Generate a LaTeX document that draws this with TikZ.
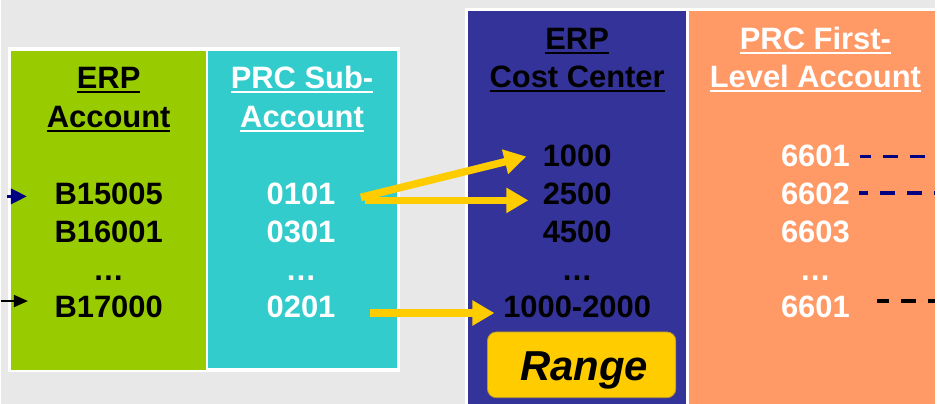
\documentclass[tikz,border=0pt]{standalone}
\usepackage{fontspec}
\setmainfont{Liberation Sans}
\usetikzlibrary{arrows.meta}
\definecolor{bg}{HTML}{E8E8E8}
\definecolor{erpgreen}{HTML}{99CC00}
\definecolor{prccyan}{HTML}{33CCCC}
\definecolor{erppurple}{HTML}{333399}
\definecolor{prcorange}{HTML}{FF9966}
\definecolor{arrowyellow}{HTML}{FFCC00}
\definecolor{rangeborder}{HTML}{B8962E}
\definecolor{navy}{HTML}{000080}
\newcommand\hul[1]{\sbox0{#1}\rlap{\rule[-4pt]{\wd0}{2pt}}\usebox0}
\tikzset{
  txt/.style={font=\fontsize{31}{37}\selectfont\bfseries, inner sep=0pt, anchor=base},
  yarrow/.style={draw=arrowyellow, line width=7.5pt, -{Triangle[length=22pt,width=24pt]}},
  dashline/.style={line width=4pt, dash pattern=on 15pt off 12pt},
}
\begin{document}
\begin{tikzpicture}[x=1pt,y=-1pt]
% background
\fill[bg] (0,0) rectangle (937,405);
% left frame
\fill[white] (7,47) rectangle (400,373);
\fill[erpgreen] (10,51) rectangle (206,371);
\fill[prccyan] (208,51) rectangle (397,369);
% right frame
\fill[white] (465,8) rectangle (937,405);
\fill[erppurple] (468,11) rectangle (687,405);
\fill[prcorange] (690,11) rectangle (937,405);

% ERP Account column
\node[txt, text=black] (ga1) at (108,89) {\hul{ERP}};
\node[txt, text=black] (ga2) at (108,128) {\hul{Account}};
\node[txt, text=black] (g1) at (108,205) {B15005};
\node[txt, text=black] (g2) at (108,243) {B16001};
\node[txt, text=black] (g3) at (108,281) {…};
\node[txt, text=black] (g4) at (108,319) {B17000};

% PRC Sub-Account column
\node[txt, text=white] (ca1) at (302,89) {\hul{PRC Sub-}};
\node[txt, text=white] (ca2) at (302,128) {\hul{Account}};
\node[txt, text=white] (c1) at (301,205) {0101};
\node[txt, text=white] (c2) at (301,243) {0301};
\node[txt, text=white] (c3) at (301,281) {…};
\node[txt, text=white] (c4) at (301,319) {0201};

% ERP Cost Center column
\node[txt, text=black] (pa1) at (578,50) {\hul{ERP}};
\node[txt, text=black] (pa2) at (578,88) {\hul{Cost Center}};
\node[txt, text=black] (p1) at (578,167) {1000};
\node[txt, text=black] (p2) at (578,205) {2500};
\node[txt, text=black] (p3) at (578,243) {4500};
\node[txt, text=black] (p4) at (578,281) {…};
\node[txt, text=black] (p5) at (578,319) {1000-2000};

% PRC First-Level Account column
\node[txt, text=white] (oa1) at (817,50) {\hul{PRC First-}};
\node[txt, text=white] (oa2) at (817,88) {\hul{Level Account}};
\node[txt, text=white] (o1) at (817,167) {6601};
\node[txt, text=white] (o2) at (817,205) {6602};
\node[txt, text=white] (o3) at (817,243) {6603};
\node[txt, text=white] (o4) at (817,281) {…};
\node[txt, text=white] (o5) at (817,319) {6601};

% Range box
\node[draw=rangeborder, line width=0.8pt, fill=arrowyellow, rounded corners=9pt,
      minimum width=189pt, minimum height=66pt, inner sep=0pt] (range) at (582.5,366) {};
\node[font=\fontsize{42}{42}\selectfont\bfseries\itshape, inner sep=0pt, anchor=base] (rangetxt) at (585,382) {Range};

% yellow arrows
\coordinate (y1s) at (361,198);
\coordinate (y1e) at (527,157);
\coordinate (y2s) at (365,201);
\coordinate (y2e) at (529,201);
\coordinate (y3s) at (370,314);
\coordinate (y3e) at (495,314);
\draw[yarrow] (y1s) -- (y1e);
\draw[yarrow] (y2s) -- (y2e);
\draw[yarrow] (y3s) -- (y3e);

% left incoming arrows
\coordinate (l1s) at (6,197);
\coordinate (l1e) at (26,197);
\coordinate (l2s) at (0,302);
\coordinate (l2e) at (27,302);
\draw[navy, line width=3pt, -{Triangle[length=16pt,width=15pt]}] (l1s) -- (l1e);
\draw[black, line width=2pt, -{Triangle[length=14pt,width=12pt]}] (l2s) -- (l2e);

% right outgoing dashed lines
\coordinate (d1s) at (862,157);
\coordinate (d1e) at (937,157);
\coordinate (d2s) at (861,194);
\coordinate (d2e) at (937,194);
\coordinate (d3s) at (879,302);
\coordinate (d3e) at (937,302);
\draw[navy, dashline, dash phase=4pt] (d1s) -- (d1e);
\draw[navy, dashline, dash phase=6pt] (d2s) -- (d2e);
\draw[black, dashline, dash phase=3pt] (d3s) -- (d3e);
\end{tikzpicture}
\end{document}
